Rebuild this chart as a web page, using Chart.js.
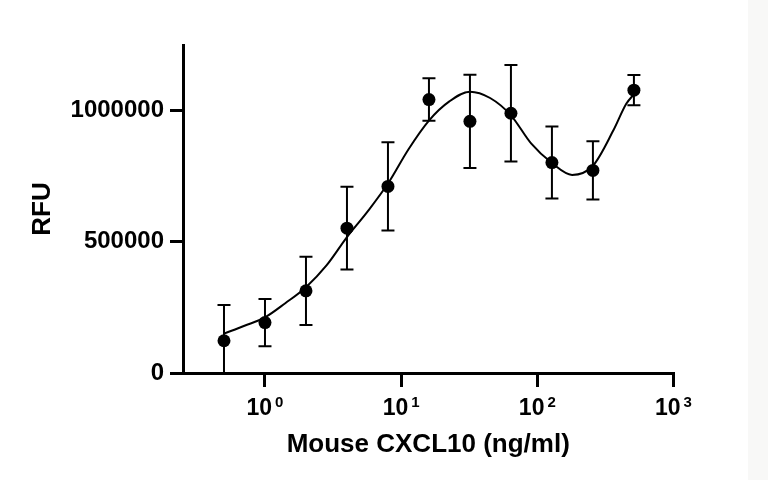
<!DOCTYPE html>
<html>
<head>
<meta charset="utf-8">
<script src="https://cdn.jsdelivr.net/npm/chart.js@4.4.1/dist/chart.umd.min.js"></script>
<style>
  html, body { margin: 0; padding: 0; background: #f8f8f7; }
  #wrap { position: absolute; left: 0; top: 0; width: 748px; height: 480px; background: #ffffff; }
  canvas { display: block; }
</style>
</head>
<body>
<div id="wrap"><canvas id="c" width="748" height="480"></canvas></div>
<script>
// ---- data ----
const concentrations = [0.5, 1, 2, 4, 8, 16, 32, 64, 128, 256, 512];
const rfuMean = [123000, 192000, 313000, 552000, 711000, 1042000, 959000, 990000, 802000, 772000, 1078000];
const rfuSD   = [136000, 90000, 130000, 158000, 168000, 81000, 178000, 184000, 137000, 111000, 58000];

const fitX = [0.5, 0.707, 1, 1.41, 2, 2.83, 4, 5.66, 8, 11.3, 16, 22.6, 32, 45, 64, 90, 128, 180, 256, 362, 450, 512];
const fitY = [150000, 180000, 212000, 266000, 327000, 410000, 518000, 615000, 722000, 852000, 962000, 1035000, 1072000, 1048000, 982000, 875000, 800000, 755000, 790000, 925000, 1026000, 1062000];

const xTickValues = [1, 10, 100, 1000];
const xTickBase = ['10', '10', '10', '10'];
const xTickExponent = ['0', '1', '2', '3'];
const yTickValues = [0, 500000, 1000000];

const xTitle = 'Mouse CXCL10 (ng/ml)';
const yTitle = 'RFU';

// ---- build datasets ----
const FONT = "'Liberation Sans', Arial, Helvetica, sans-serif";

const pointsDataset = {
  type: 'scatter',
  label: 'mean',
  data: concentrations.map((x, i) => ({ x: x, y: rfuMean[i] })),
  pointRadius: 6.5,
  pointBackgroundColor: '#000',
  pointBorderWidth: 0,
  showLine: false,
  order: 0
};

const curveDataset = {
  type: 'line',
  label: 'fit',
  data: fitX.map((x, i) => ({ x: x, y: fitY[i] })),
  borderColor: '#000',
  borderWidth: 2,
  pointRadius: 0,
  cubicInterpolationMode: 'monotone',
  fill: false,
  order: 1
};

const errorDatasets = concentrations.map((x, i) => ({
  type: 'line',
  label: 'sd' + i,
  data: [{ x: x, y: rfuMean[i] - rfuSD[i] }, { x: x, y: rfuMean[i] + rfuSD[i] }],
  borderColor: '#000',
  borderWidth: 2,
  pointStyle: 'line',
  pointRadius: 6.5,
  pointBorderWidth: 2,
  pointBorderColor: '#000',
  showLine: true,
  fill: false,
  order: 2
}));

// power-of-ten tick labels ("10" with a raised exponent), placed by the x scale
const powerLabels = {
  id: 'powerLabels',
  afterDraw(chart) {
    const sc = chart.scales.x;
    const ctx = chart.ctx;
    ctx.save();
    ctx.fillStyle = '#000';
    ctx.textBaseline = 'alphabetic';
    ctx.textAlign = 'left';
    const mainFont = 'bold 23px ' + FONT;
    const supFont = 'bold 15px ' + FONT;
    const baseY = sc.top + 42;
    const supY = sc.top + 34;
    xTickValues.forEach((v, i) => {
      const px = sc.getPixelForValue(v);
      ctx.font = mainFont;
      const w1 = ctx.measureText(xTickBase[i]).width;
      ctx.font = supFont;
      const w2 = ctx.measureText(xTickExponent[i]).width;
      const gap = 3;
      const x0 = px - (w1 + gap + w2) / 2;
      ctx.font = mainFont;
      ctx.fillText(xTickBase[i], x0, baseY);
      ctx.font = supFont;
      ctx.fillText(xTickExponent[i], x0 + w1 + gap, supY);
    });
    ctx.restore();
  }
};

new Chart(document.getElementById('c'), {
  type: 'scatter',
  data: { datasets: [pointsDataset, curveDataset].concat(errorDatasets) },
  plugins: [powerLabels],
  options: {
    responsive: false,
    animation: false,
    events: [],
    layout: { padding: { top: 45, right: 74.5, left: 0, bottom: 0 } },
    plugins: { legend: { display: false }, tooltip: { enabled: false } },
    scales: {
      x: {
        type: 'logarithmic',
        min: 0.25,
        max: 1000,
        afterBuildTicks: (s) => { s.ticks = xTickValues.map(v => ({ value: v, major: true })); },
        afterFit: (s) => { s.height = 107; },
        ticks: {
          autoSkip: false,
          maxRotation: 0,
          padding: 6,
          color: '#000',
          font: { family: FONT, size: 23, weight: 'bold' },
          callback: () => ''
        },
        grid: { drawOnChartArea: false, drawTicks: true, tickLength: 14, tickWidth: 3, tickColor: '#000', color: '#000', lineWidth: 3 },
        border: { display: true, color: '#000', width: 3 },
        title: {
          display: true, text: xTitle, color: '#000',
          font: { family: FONT, size: 26, weight: 'bold' },
          padding: { top: 0, bottom: 20 }
        }
      },
      y: {
        type: 'linear',
        min: 0,
        max: 1250000,
        afterBuildTicks: (s) => { s.ticks = yTickValues.map(v => ({ value: v })); },
        afterFit: (s) => { s.width = 183; },
        ticks: {
          padding: 6,
          color: '#000',
          font: { family: FONT, size: 24, weight: 'bold' },
          callback: (v) => String(v)
        },
        grid: { drawOnChartArea: false, drawTicks: true, tickLength: 13, tickWidth: 3, tickColor: '#000', color: '#000', lineWidth: 3 },
        border: { display: true, color: '#000', width: 3 },
        title: {
          display: true, text: yTitle, color: '#000',
          font: { family: FONT, size: 26, weight: 'bold' },
          padding: { top: 27, bottom: 0 }
        }
      }
    }
  }
});
</script>
</body>
</html>
